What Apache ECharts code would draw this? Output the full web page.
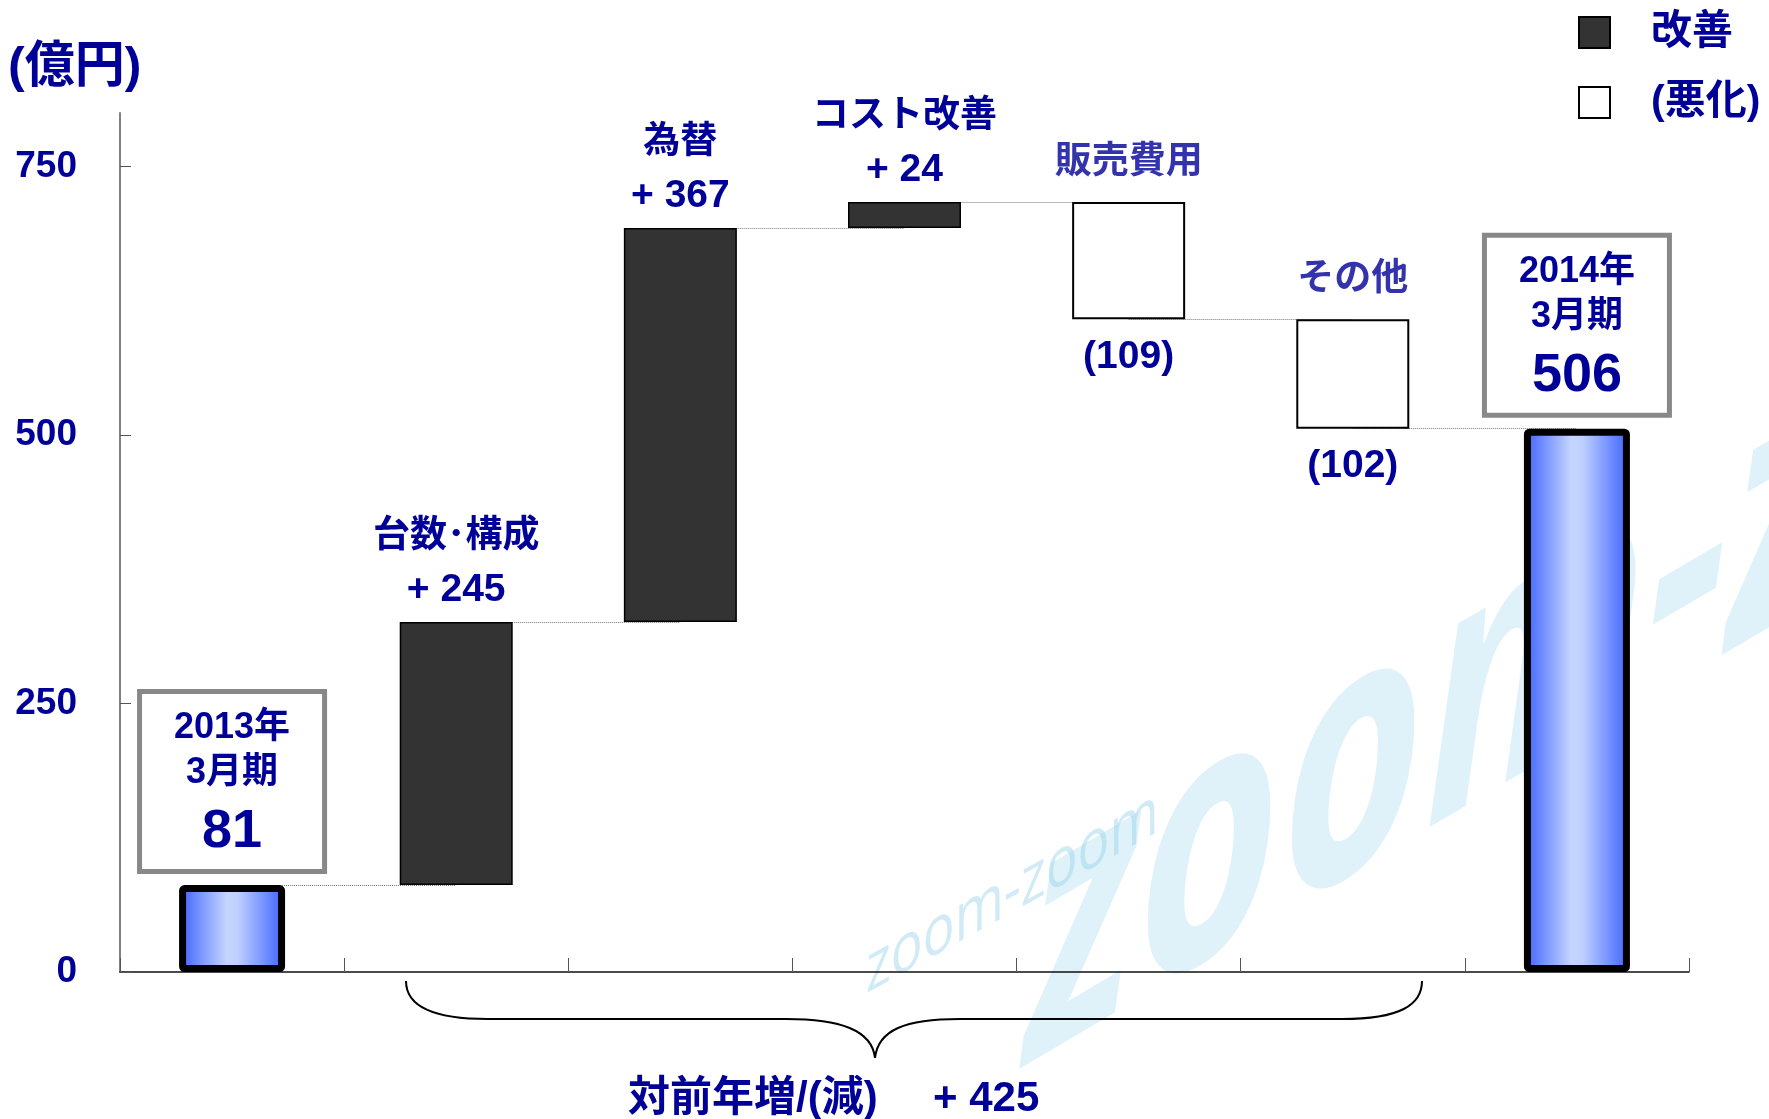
<!DOCTYPE html>
<html><head><meta charset="utf-8">
<script src="https://cdn.jsdelivr.net/npm/echarts@6/dist/echarts.min.js"></script>
<style>html,body{margin:0;padding:0;background:#fff}#c{width:1769px;height:1119px}</style>
</head><body><div id="c"></div><script>
// ---- data ----
const categories = ['2013年\n3月期', '台数･構成', '為替', 'コスト改善', '販売費用', 'その他', '2014年\n3月期'];
const startValue = 81;
const endValue = 506;
const deltas = [245, 367, 24, -109, -102];
const yTickValues = [0, 250, 500, 750];
const unitLabel = '(億円)';
const legendNames = ['改善', '(悪化)'];
const summaryLabel = '対前年増/(減)';

// ---- styles ----
const NAVY = '#000099';
const FONT = "'Liberation Sans', 'Noto Sans CJK JP', sans-serif";

// ---- derive waterfall stacks ----
const n = categories.length;
const base = new Array(n).fill('-');
const up = new Array(n).fill('-');
const down = new Array(n).fill('-');
const totals = new Array(n).fill('-');
totals[0] = startValue;
totals[n - 1] = endValue;
const levels = [startValue];
const downTops = [];
let cum = startValue;
deltas.forEach((d, k) => {
  const i = k + 1;
  if (d >= 0) { base[i] = cum; up[i] = d; cum += d; }
  else { const top = cum; cum += d; base[i] = cum; down[i] = -d; downTops.push([i, top]); }
  levels.push(cum);
});
const totalChange = deltas.reduce((a, b) => a + b, 0);

const chart = echarts.init(document.getElementById('c'), null, { renderer: 'canvas' });
const txt = (size, fam) => ({ fontSize: size, fontWeight: 'bold', color: NAVY, fontFamily: fam || FONT });
const braceStyle = { stroke: '#000', lineWidth: 2, fill: 'none' };
const DEG = Math.PI / 180;

chart.setOption({
  animation: false,
  backgroundColor: '#fff',
  title: {
    text: unitLabel, left: 8, top: 38, padding: 0,
    textStyle: Object.assign(txt(50), { lineHeight: 60 })
  },
  legend: {
    data: legendNames, left: 1573, top: 7, orient: 'vertical',
    itemWidth: 31, itemHeight: 31, itemGap: 29, icon: 'rect', selectedMode: false,
    textStyle: Object.assign(txt(41), { lineHeight: 31, padding: [0, 0, 0, 36] })
  },
  grid: { left: 120, right: 80, top: 113, bottom: 147 },
  xAxis: [
    {
      type: 'category', data: categories, position: 'bottom',
      axisLine: { lineStyle: { color: '#111', width: 1.5 } },
      axisTick: { show: true, inside: true, length: 14, lineStyle: { color: '#555', width: 1 } },
      axisLabel: { show: false }, splitLine: { show: false }
    },
    { type: 'category', data: categories, show: false, position: 'bottom' }
  ],
  yAxis: {
    type: 'value', min: 0, max: 800, interval: 250,
    axisLine: { show: true, lineStyle: { color: '#808080', width: 2 } },
    axisTick: { show: true, inside: true, length: 11, customValues: yTickValues, lineStyle: { color: '#555', width: 1 } },
    axisLabel: Object.assign(txt(37), { margin: 43, customValues: yTickValues }),
    splitLine: { show: false }
  },
  series: [
    {
      name: 'base', type: 'bar', stack: 'wf', xAxisIndex: 0, barWidth: 113,
      data: base, silent: true,
      itemStyle: { color: 'rgba(0,0,0,0)' },
      emphasis: { disabled: true },
      markLine: {
        silent: true, symbol: 'none', z: 1,
        label: { show: false },
        lineStyle: { type: 'dotted', color: '#777', width: 1 },
        data: levels.map((v, i) => [{ coord: [i, v] }, { coord: [i + 1, v] }])
      }
    },
    {
      name: legendNames[0], type: 'bar', stack: 'wf', xAxisIndex: 0, barWidth: 113, z: 3,
      data: up,
      itemStyle: { color: '#333333', borderColor: '#000', borderWidth: 1.5 },
      emphasis: { disabled: true },
      label: {
        show: true, position: 'top', distance: 10,
        formatter: p => `{n|${categories[p.dataIndex]}}\n{v|+ ${p.value}}`,
        rich: {
          n: Object.assign(txt(37), { lineHeight: 62 }),
          v: Object.assign(txt(39), { lineHeight: 44 })
        }
      }
    },
    {
      name: legendNames[1], type: 'bar', stack: 'wf', xAxisIndex: 0, barWidth: 113, z: 3,
      data: down,
      itemStyle: { color: '#ffffff', borderColor: '#000', borderWidth: 2 },
      emphasis: { disabled: true },
      label: Object.assign(txt(39), {
        show: true, position: 'bottom', distance: 18, lineHeight: 40,
        formatter: p => `(${p.value})`
      })
    },
    {
      name: 'total', type: 'bar', xAxisIndex: 1, barWidth: 106, z: 3,
      data: totals,
      itemStyle: {
        color: { type: 'linear', x: 0, y: 0, x2: 1, y2: 0, colorStops: [
          { offset: 0, color: '#3a60ff' }, { offset: 0.45, color: '#c6d5ff' },
          { offset: 0.55, color: '#c0d0ff' }, { offset: 1, color: '#3a60ff' } ] },
        borderColor: '#000', borderWidth: 7, borderRadius: 2
      },
      emphasis: { disabled: true },
      label: {
        show: true, position: 'top', distance: 16,
        backgroundColor: '#fff', borderColor: '#888', borderWidth: 5,
        padding: [12, 0, 0, 0], width: 180,
        formatter: p => {
          const parts = categories[p.dataIndex].split('\n');
          return `{y|${parts[0]}}\n{m|${parts[1]}}\n{v|${p.value}}`;
        },
        rich: {
          y: Object.assign(txt(36), { lineHeight: 45, align: 'center' }),
          m: Object.assign(txt(36), { lineHeight: 44, align: 'center' }),
          v: Object.assign(txt(54), { lineHeight: 74, align: 'center' })
        }
      }
    },
    {
      name: 'downNames', type: 'scatter', xAxisIndex: 0, z: 4,
      symbolSize: 0, silent: true,
      data: downTops.map(([i, top]) => ({ value: [i, top], name: categories[i] })),
      label: Object.assign(txt(37), {
        show: true, position: 'top', distance: 19, lineHeight: 40,
        formatter: p => p.name
      })
    }
  ],
  graphic: [
    {
      type: 'text', x: 1025, y: 1139, scaleX: 0.72, skewY: 30.5 * DEG, z: -10, silent: true,
      style: { text: 'zoom-zoom', fontSize: 342, fontStyle: 'italic', fontWeight: 'bold', fontFamily: "'Open Sans', sans-serif",
        fill: 'rgba(150,210,235,0.3)', textVerticalAlign: 'bottom' }
    },
    {
      type: 'text', x: 866, y: 1008, scaleX: 0.78, skewY: 29 * DEG, z: -10, silent: true,
      style: { text: 'zoom-zoom', fontSize: 68, fontFamily: "'Open Sans', sans-serif",
        fill: 'rgba(150,210,235,0.45)', textVerticalAlign: 'bottom' }
    },
    { type: 'bezierCurve', z: 10, silent: true, style: braceStyle,
      shape: { x1: 406, y1: 981, cpx1: 406, cpy1: 1005, cpx2: 430, cpy2: 1019, x2: 488, y2: 1019 } },
    { type: 'line', z: 10, silent: true, style: braceStyle, shape: { x1: 488, y1: 1019, x2: 786, y2: 1019 } },
    { type: 'bezierCurve', z: 10, silent: true, style: braceStyle,
      shape: { x1: 786, y1: 1019, cpx1: 840, cpy1: 1019, cpx2: 872, cpy2: 1030, x2: 875, y2: 1058 } },
    { type: 'bezierCurve', z: 10, silent: true, style: braceStyle,
      shape: { x1: 875, y1: 1058, cpx1: 878, cpy1: 1030, cpx2: 905, cpy2: 1019, x2: 960, y2: 1019 } },
    { type: 'line', z: 10, silent: true, style: braceStyle, shape: { x1: 960, y1: 1019, x2: 1342, y2: 1019 } },
    { type: 'bezierCurve', z: 10, silent: true, style: braceStyle,
      shape: { x1: 1342, y1: 1019, cpx1: 1400, cpy1: 1019, cpx2: 1422, cpy2: 1005, x2: 1422, y2: 981 } },
    {
      type: 'text', x: 628, y: 1099, z: 10, silent: true,
      style: { text: summaryLabel, fontSize: 42, fontWeight: 'bold', fill: NAVY, fontFamily: FONT, textVerticalAlign: 'middle' }
    },
    {
      type: 'text', x: 933, y: 1099, z: 10, silent: true,
      style: { text: '+ ' + totalChange, fontSize: 42, fontWeight: 'bold', fill: NAVY, fontFamily: FONT, textVerticalAlign: 'middle' }
    }
  ]
});
</script></body></html>
